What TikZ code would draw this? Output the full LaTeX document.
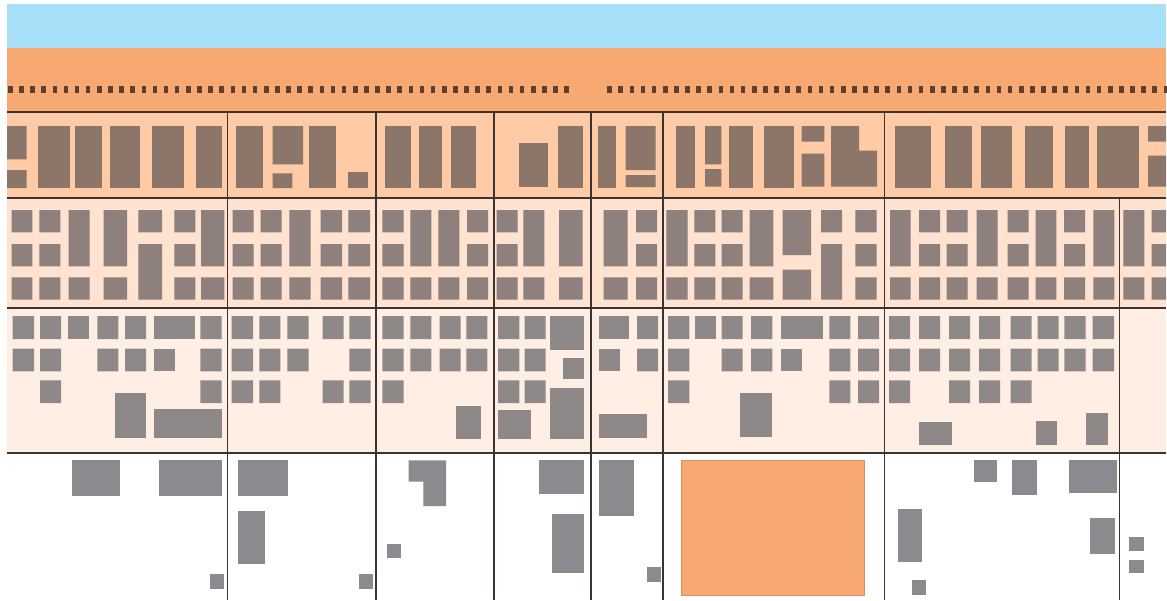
\documentclass[tikz,border=0pt]{standalone}
\begin{document}
\definecolor{sky}{HTML}{A8DFF9}
\definecolor{band}{HTML}{F8A971}
\definecolor{dotc}{HTML}{5C3F2F}
\definecolor{rAbg}{HTML}{FFCBA6}
\definecolor{rBbg}{HTML}{FFE2CF}
\definecolor{rCbg}{HTML}{FFEEE4}
\definecolor{bA}{HTML}{8C7569}
\definecolor{bB}{HTML}{8D807D}
\definecolor{bC}{HTML}{8E8889}
\definecolor{bD}{HTML}{8B8A8F}
\definecolor{linec}{HTML}{3A3331}
\begin{tikzpicture}[x=1pt,y=-1pt,
  bldA/.style={fill=bA},
  bldB/.style={fill=bB},
  bldC/.style={fill=bC},
  bldD/.style={fill=bD},
  divline/.style={draw=linec,line width=1.6pt},
  windowdot/.style={fill=dotc}]
\useasboundingbox (0,0) rectangle (1167,600);
\fill[white] (0,0) rectangle (1167,600);
% sky and top band
\fill[sky] (7,4) rectangle (1166,48);
\draw[gray!70,line width=0.5pt] (7,48) -- (1166,48);
\fill[band] (7,48) rectangle (1166,112);
\foreach \i in {0,...,50} {
  \fill[windowdot] ({8+11.126*\i},86) rectangle ++(4.6,7);
  \fill[windowdot] ({607.3+11.126*\i},86) rectangle ++(4.6,7);
}
% row backgrounds
\fill[rAbg] (7,112) rectangle (1166,198);
\fill[rBbg] (7,198) rectangle (1166,308);
\fill[rCbg] (7,308) rectangle (1166,453);
% row 1 buildings
\foreach \xa/\xb in {38.3/70.3,75.3/102,110/140,151.7/183.7,196/221.7,235.7/262.7,308.7/336,385/411.3,418.7/442,450.7/476,557.7/582.7,598.3/615.7,676/694.7,728.7/753.3,764.3/794.3,894.7/931,944.7/971.7,980.7/1012.3,1025/1053,1065/1089.3,1096.7/1139}
  \fill[bldA] (\xa,126) rectangle (\xb,187.5);
\fill[bldA] (7,126) rectangle (26.7,159.3) (7,170) rectangle (26.7,188);
\fill[bldA] (272.7,126) rectangle (303,164.3) (272.7,173.3) rectangle (292.3,188);
\fill[bldA] (347.7,172) rectangle (368,188);
\fill[bldA] (519.3,143.3) rectangle (548,187.3);
\fill[bldA] (625.7,126) rectangle (655.7,170) (625.7,175) rectangle (655.7,187);
\fill[bldA] (705,126) rectangle (721.3,164.3) (705,169) rectangle (721.3,186.7);
\fill[bldA] (801.7,126) rectangle (824.3,141.7) (801.7,153.7) rectangle (824.3,186.7);
\fill[bldA] (831,126) -- (859,126) -- (859,150.7) -- (877,150.7) -- (877,186.7) -- (831,186.7) -- cycle;
\fill[bldA] (1148,126) rectangle (1166,141.7) (1148,155.7) rectangle (1166,186.7);
% row 2 buildings
\foreach \xa/\xb in {11.7/32.3,39.3/60.3,174.3/195.3,232.7/253.7,260.7/281.7,320.7/342,348.3/370,382.3/403.7,467/488,496.7/517.7,636/657,694.3/715.3,721.7/742.7,855.3/876.7,919/940,946.7/967.7,1007.7/1028.7,1064/1085,1151.7/1166}
  \fill[bldB] (\xa,210) rectangle (\xb,232.3) (\xa,244) rectangle (\xb,266.3) (\xa,277.3) rectangle (\xb,299.7);
\foreach \xa/\xb in {68.7/89.7,103.7/127,201/224.3,289.3/310.7,410.3/431.3,438.3/459.3,523.3/544.3,559/582.7,603.7/627.7,666.3/687.7,749.7/773.3,890/910.7,976.7/997.7,1035.7/1056.3,1093.3/1114.3,1123.3/1144.3}
  \fill[bldB] (\xa,210) rectangle (\xb,266.3) (\xa,277.3) rectangle (\xb,299.7);
\foreach \xa/\xb in {138.3/162,821/842}
  \fill[bldB] (\xa,210) rectangle (\xb,232.3) (\xa,244) rectangle (\xb,299.7);
\fill[bldB] (782.7,210) rectangle (811,255) (782.7,269.7) rectangle (811,299.7);
% row 3 buildings
\foreach \xa/\xb in {40/61,200.3/221.7,231.7/253,259.3/280.3,349.3/370.7,382.3/403.7,498/519.3,524.7/545.7,668/689.3,829.3/850.3,858/879,889/910,949/970,979/1000,1010.7/1031.7}
  \fill[bldC] (\xa,316) rectangle (\xb,339) (\xa,348.7) rectangle (\xb,371.3) (\xa,380.3) rectangle (\xb,403);
\foreach \xa/\xb in {12.7/34,97.3/118.3,125/146,287.3/308.7,410.3/431.3,439.7/460.7,466.3/487.3,637/658,721.7/742.7,751/772.3,919/940,1037.7/1058.7,1064.3/1085.7,1092.7/1114}
  \fill[bldC] (\xa,316) rectangle (\xb,339) (\xa,348.7) rectangle (\xb,371.3);
\foreach \xa/\xb in {67.7/89,695/716,154/195.3,599/628.7,781/822.7}
  \fill[bldC] (\xa,316) rectangle (\xb,339);
\foreach \xa/\xb in {154/175.3,599/620.3,781/802}
  \fill[bldC] (\xa,348.7) rectangle (\xb,371.3);
\fill[bldC] (322.7,316) rectangle (343.7,339) (322.7,380.3) rectangle (343.7,403);
\fill[bldC] (115,393.3) rectangle (146,438.3);
\fill[bldC] (154,409.3) rectangle (221.7,438.3);
\fill[bldC] (456.3,406) rectangle (481.3,439);
\fill[bldC] (550,316) rectangle (584.3,350);
\fill[bldC] (562.7,357.7) rectangle (584.3,378.7);
\fill[bldC] (550,387.7) rectangle (584.3,439);
\fill[bldC] (498,410.3) rectangle (531.3,439);
\fill[bldC] (599,413.7) rectangle (647,438.3);
\fill[bldC] (740.3,393.3) rectangle (772.3,437);
\fill[bldC] (919,422) rectangle (952,445.3);
\fill[bldC] (1035.7,421) rectangle (1057,445.3);
\fill[bldC] (1086.3,413.3) rectangle (1107.7,445.3);
% row 4 buildings
\fill[bldD] (71.7,460.3) rectangle (120.3,495.7);
\fill[bldD] (158.7,460.3) rectangle (222.3,495.7);
\fill[bldD] (210,574) rectangle (224,588.7);
\fill[bldD] (238,460.3) rectangle (287.7,495.7);
\fill[bldD] (238,510.7) rectangle (265,564);
\fill[bldD] (359.3,574) rectangle (373.3,588.7);
\fill[bldD] (386.7,543.7) rectangle (400.7,558.3);
\fill[bldD] (408.7,460.3) -- (446,460.3) -- (446,506) -- (423.3,506) -- (423.3,481.7) -- (408.7,481.7) -- cycle;
\fill[bldD] (538.7,460.3) rectangle (584,494.3);
\fill[bldD] (552,513.7) rectangle (584,572.7);
\fill[bldD] (599,460.3) rectangle (633.7,516);
\fill[bldD] (647,567) rectangle (660.7,581.7);
\fill[band,draw=band!85!black,line width=0.4pt] (681.3,460.3) rectangle (864,595);
\fill[bldD] (974,460.3) rectangle (997.3,481.7);
\fill[bldD] (1012.3,460.3) rectangle (1037.3,495.3);
\fill[bldD] (1069.3,460.3) rectangle (1116.7,493);
\fill[bldD] (898.3,509.3) rectangle (922.3,562.3);
\fill[bldD] (1089.7,518.3) rectangle (1114.7,553.7);
\fill[bldD] (912,580.3) rectangle (926,595.3);
\fill[bldD] (1129,537.3) rectangle (1144,550.7);
\fill[bldD] (1129,560) rectangle (1144,573.3);
% dividing lines
\foreach \yy in {112,198,308,453}
  \draw[divline] (7,\yy) -- (1166,\yy);
\foreach \xx in {227.5,376,494,591,663,884.5}
  \draw[divline] (\xx,112) -- (\xx,600);
\draw[divline] (1119.5,198) -- (1119.5,600);
\end{tikzpicture}
\end{document}
